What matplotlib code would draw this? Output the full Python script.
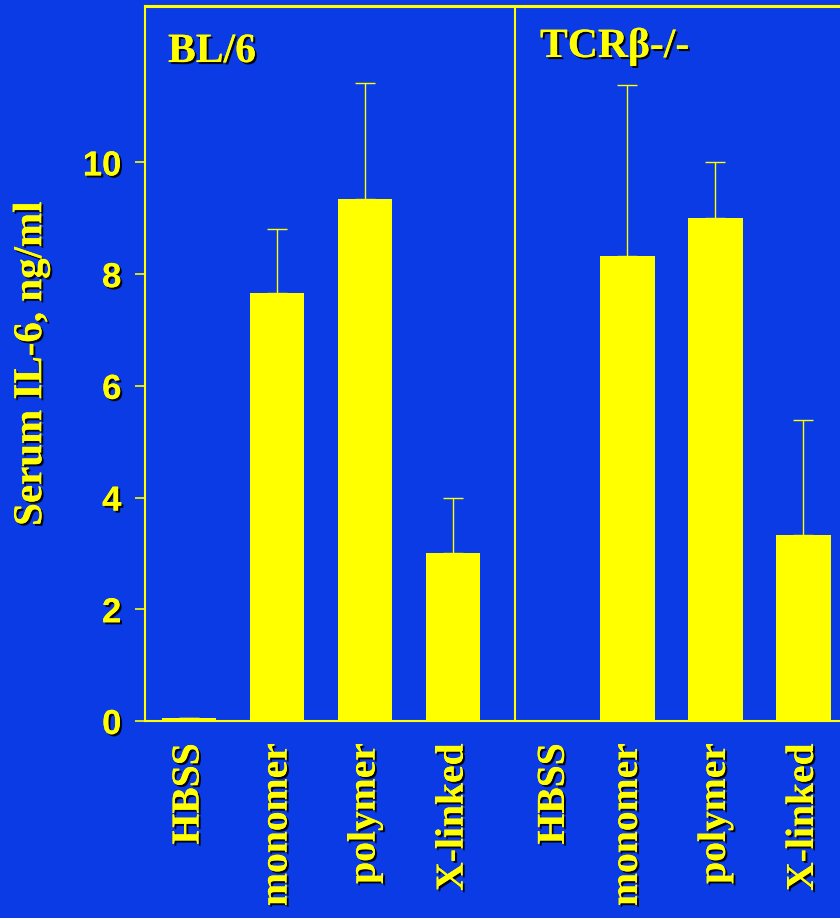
import matplotlib.pyplot as plt
import matplotlib.patheffects as pe

# data
categories = ["HBSS", "monomer", "polymer", "X-linked"]
bl6_mean = [0.05, 7.67, 9.34, 3.01]
bl6_err = [0.0, 1.13, 2.08, 0.99]
tcr_mean = [0.0, 8.33, 9.00, 3.33]
tcr_err = [0.0, 3.05, 1.00, 2.06]

bl6_x = [0, 1, 2, 3]
tcr_x = [4.15, 4.98, 5.98, 6.98]
divider = 3.70

blue = "#0a3be5"
yellow = "#ffff00"
shadow = [pe.withSimplePatchShadow(offset=(1.5, -1.5), shadow_rgbFace="black", alpha=0.9), pe.Normal()]

fig = plt.figure(figsize=(8.4, 9.18), dpi=100, facecolor=blue)
ax = fig.add_axes([145 / 840, 1 - 721 / 918, 713 / 840, 715 / 918])
ax.set_facecolor(blue)

ax.bar(bl6_x, bl6_mean, width=0.62, color=yellow)
ax.bar(tcr_x, tcr_mean, width=0.62, color=yellow)
ax.errorbar(bl6_x, bl6_mean, yerr=[[0] * 4, bl6_err], fmt="none",
            ecolor=yellow, elinewidth=1, capsize=7, capthick=1)
ax.errorbar(tcr_x, tcr_mean, yerr=[[0] * 4, tcr_err], fmt="none",
            ecolor=yellow, elinewidth=1, capsize=7, capthick=1)
ax.axvline(divider, color=yellow, lw=1.5)

ax.set_xlim(-0.5, 7.6)
ax.set_ylim(0, 12.8)

for s in ["left", "bottom", "top"]:
    ax.spines[s].set_color(yellow)
    ax.spines[s].set_linewidth(1.5)
ax.spines["top"].set_linewidth(2.2)
ax.spines["right"].set_visible(False)

ax.set_yticks([0, 2, 4, 6, 8, 10])
ax.tick_params(axis="y", colors=yellow, length=7, width=1.2, pad=10)
for t in ax.get_yticklabels():
    t.set_fontfamily("Liberation Sans")
    t.set_fontweight("bold")
    t.set_fontsize(25)
    t.set_color(yellow)
    t.set_path_effects(shadow)

ax.set_xticks(bl6_x + tcr_x)
ax.set_xticklabels(categories + categories, rotation=90, va="top", ha="center",
                   fontfamily="Liberation Serif", fontweight="bold", fontsize=28.5,
                   color=yellow)
ax.tick_params(axis="x", length=0, pad=16)
for t in ax.get_xticklabels():
    t.set_path_effects(shadow)

ax.set_ylabel("Serum IL-6, ng/ml", fontfamily="Liberation Serif", fontweight="bold",
              fontsize=29.5, color=yellow, path_effects=shadow)
ax.yaxis.set_label_coords(-0.133, 0.5)

fig.text(168 / 840, 1 - 62 / 918, "BL/6", fontsize=30, fontweight="bold",
         fontfamily="Liberation Serif", color=yellow, path_effects=shadow, va="baseline")
fig.text(540 / 840, 1 - 57 / 918, "TCRβ-/-", fontsize=30, fontweight="bold",
         fontfamily="Liberation Serif", color=yellow, path_effects=shadow, va="baseline")

fig.savefig("out.png", dpi=100, facecolor=blue)
